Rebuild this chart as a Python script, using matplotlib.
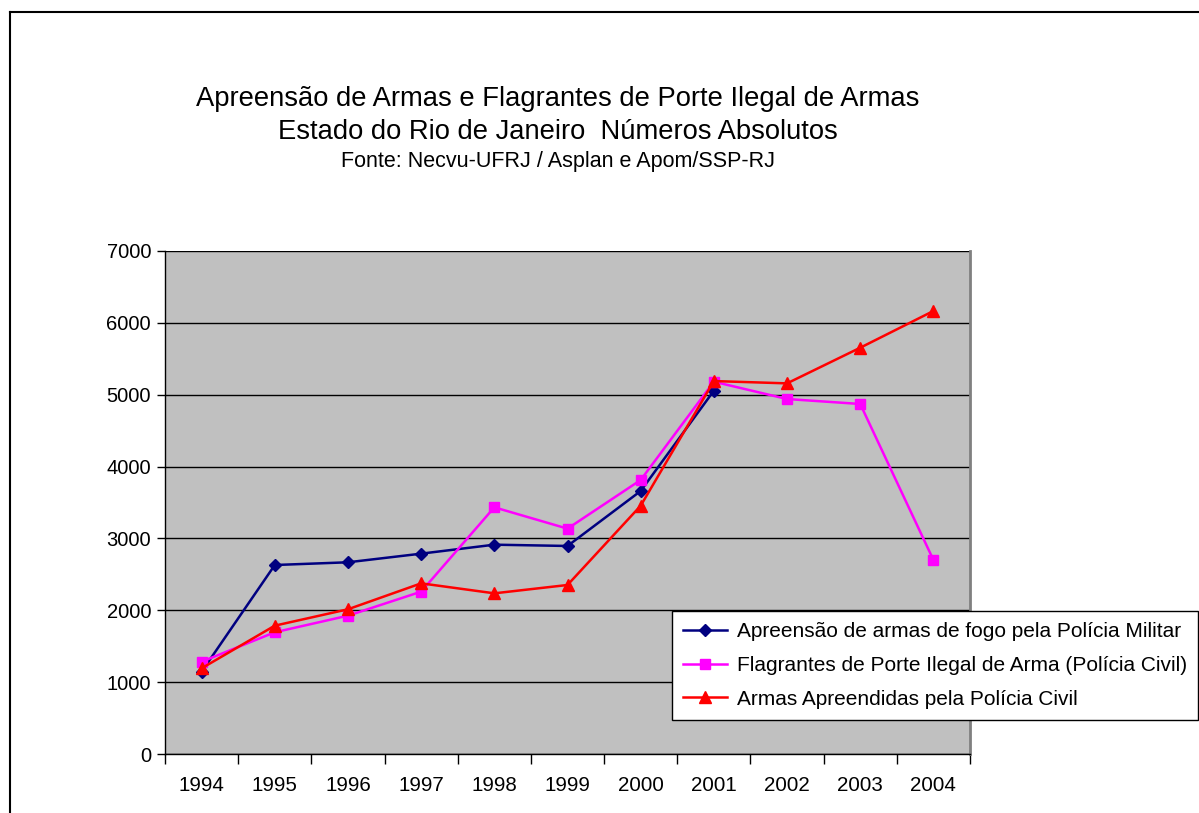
import matplotlib
matplotlib.use("Agg")
import matplotlib.pyplot as plt
from matplotlib.lines import Line2D

plt.rcParams['font.family'] = ['Liberation Sans', 'DejaVu Sans']

years = ['1994', '1995', '1996', '1997', '1998', '1999', '2000', '2001', '2002', '2003', '2004']
pm_apreensao = [1145, 2630, 2668, 2788, 2913, 2895, 3660, 5056, None, None, None]
flagrantes_pc = [1284, 1694, 1925, 2259, 3433, 3136, 3813, 5181, 4940, 4871, 2700]
armas_pc = [1192, 1786, 2014, 2375, 2236, 2352, 3455, 5190, 5158, 5654, 6165]

labels = ['Apreensão de armas de fogo pela Polícia Militar',
          'Flagrantes de Porte Ilegal de Arma (Polícia Civil)',
          'Armas Apreendidas pela Polícia Civil']

fig = plt.figure(figsize=(11.99, 8.13), dpi=100)
ax = fig.add_axes([165 / 1199, 59 / 813, 805 / 1199, 503 / 813])
ax.set_facecolor('#C0C0C0')

x = list(range(len(years)))
pm_x = [i for i, v in zip(x, pm_apreensao) if v is not None]
pm_y = [v for v in pm_apreensao if v is not None]

ax.plot(pm_x, pm_y, color='#000080', marker='D', markersize=6, lw=1.8, label=labels[0])
ax.plot(x, flagrantes_pc, color='#FF00FF', marker='s', markersize=7.5, lw=1.8, label=labels[1])
ax.plot(x, armas_pc, color='#FF0000', marker='^', markersize=8.5, lw=1.8, label=labels[2])

ax.set_xlim(-0.5, len(years) - 0.5)
ax.set_ylim(0, 7000)
ax.set_yticks(range(0, 7001, 1000))
ax.yaxis.grid(True, color='#000000', lw=1)
ax.set_axisbelow(True)

ax.set_xticks(x)
ax.set_xticklabels(years)
ax.set_xticks([i - 0.5 for i in range(len(years) + 1)], minor=True)
ax.tick_params(axis='x', which='major', length=0, pad=16, labelsize=14.8)
ax.tick_params(axis='x', which='minor', length=7, width=1, direction='out')
ax.tick_params(axis='y', length=6, width=1, direction='out', labelsize=14.5, pad=4)

for side in ['left', 'bottom']:
    ax.spines[side].set_color('#000000')
    ax.spines[side].set_linewidth(1)
ax.spines['right'].set_color('#808080')
ax.spines['right'].set_linewidth(2)
ax.spines['top'].set_visible(False)

leg = fig.legend(loc='upper left', bbox_to_anchor=(672 / 1199, 1 - 611 / 813),
                 frameon=True, fancybox=False, fontsize=15, handlelength=2.1,
                 handletextpad=0.45, borderpad=0.55, labelspacing=0.7,
                 borderaxespad=0, framealpha=1)
leg.get_frame().set_edgecolor('#000000')
leg.get_frame().set_facecolor('white')
leg.get_frame().set_linewidth(1)

fig.text(558 / 1199, 1 - 99 / 813, 'Apreensão de Armas e Flagrantes de Porte Ilegal de Armas',
         ha='center', va='center', fontsize=19.7)
fig.text(558 / 1199, 1 - 132 / 813, 'Estado do Rio de Janeiro  Números Absolutos',
         ha='center', va='center', fontsize=19.7)
fig.text(558 / 1199, 1 - 162 / 813, 'Fonte: Necvu-UFRJ / Asplan e Apom/SSP-RJ',
         ha='center', va='center', fontsize=15.5)

# outer chart frame (left and top edges)
fig.add_artist(Line2D([10 / 1199, 10 / 1199], [0, 1 - 12 / 813], color='black', lw=1.5,
                      transform=fig.transFigure))
fig.add_artist(Line2D([10 / 1199, 1], [1 - 12 / 813, 1 - 12 / 813], color='black', lw=1.5,
                      transform=fig.transFigure))

fig.savefig('out.png', dpi=100)
